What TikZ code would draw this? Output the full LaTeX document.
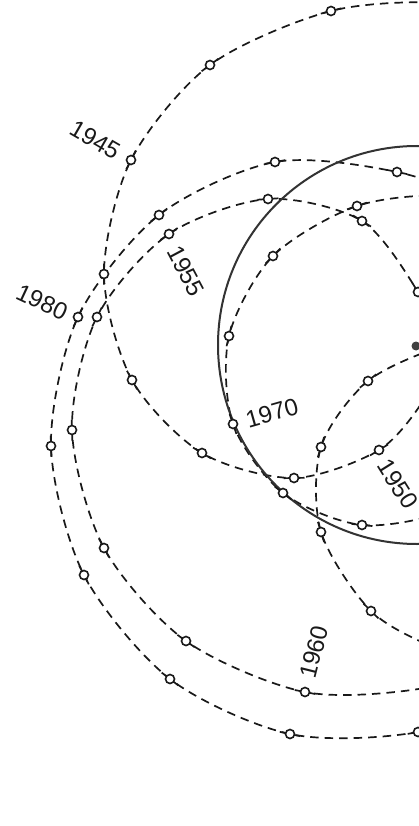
\documentclass[tikz,border=0pt]{standalone}
\usepackage{fontspec}
\setmainfont{Liberation Sans}
\usetikzlibrary{calc}
\tikzset{
  orbit/.style={dash pattern=on 8.5pt off 6pt, line width=1.7pt, draw=black!90},
  mk/.style={circle, draw=black!90, fill=white, line width=1.6pt, inner sep=0pt, minimum size=9pt},
  stub/.style={line width=1.7pt, draw=black!90},
  yr/.style={font=\fontsize{24}{24}\selectfont, inner sep=0pt, text=black!90},
  sun/.style={line width=2pt, draw=black!80},
  bary/.style={circle, fill=black!75, inner sep=0pt, minimum size=9pt},
}
\newcommand\mymark[3]{%
  \coordinate (tt) at ($(#2)+(#3)-(#1)$);
  \draw[stub] ($(#2)!10.5pt!(tt)$) -- ($(#2)!-10.5pt!(tt)$);
  \node[mk] (m-#2) at (#2) {};
}
\begin{document}
\begin{tikzpicture}[x=1pt,y=-1pt]
\useasboundingbox (0,0) rectangle (419,826);
\fill[white] (0,0) rectangle (419,826);
\clip (0,0) rectangle (419,826);
% curve A (1943-1950)
\coordinate (a0) at (560,25);
\coordinate (a1) at (450,3);
\coordinate (a2) at (331,11);
\coordinate (a3) at (210,65);
\coordinate (a4) at (131,160);
\coordinate (a5) at (104,274);
\coordinate (a6) at (132,380);
\coordinate (a7) at (202,453);
\coordinate (a8) at (294,478);
\coordinate (a9) at (379,450);
\coordinate (a10) at (425,398);
\coordinate (a11) at (450,340);
% curve B (1950-1960)
\coordinate (b0) at (460,420);
\coordinate (b1) at (440,345);
\coordinate (b2) at (418,292);
\coordinate (b3) at (362,221);
\coordinate (b4) at (268,199);
\coordinate (b5) at (169,234);
\coordinate (b6) at (97,317);
\coordinate (b7) at (72,430);
\coordinate (b8) at (104,548);
\coordinate (b9) at (186,641);
\coordinate (b10) at (305,692);
\coordinate (b11) at (425,688);
\coordinate (b12) at (530,655);
% curve C (1980)
\coordinate (c0) at (600,260);
\coordinate (c1) at (505,210);
\coordinate (c2) at (397,172);
\coordinate (c3) at (275,162);
\coordinate (c4) at (159,215);
\coordinate (c5) at (78,317);
\coordinate (c6) at (51,446);
\coordinate (c7) at (84,575);
\coordinate (c8) at (170,679);
\coordinate (c9) at (290,734);
\coordinate (c10) at (418,732);
\coordinate (c11) at (530,690);
% curve D (1970)
\coordinate (d0) at (540,220);
\coordinate (d1) at (450,196);
\coordinate (d2) at (357,206);
\coordinate (d3) at (273,256);
\coordinate (d4) at (229,336);
\coordinate (d5) at (233,424);
\coordinate (d6) at (283,493);
\coordinate (d7) at (362,525);
\coordinate (d8) at (450,510);
\coordinate (d9) at (530,460);
% curve E
\coordinate (e0) at (520,330);
\coordinate (e1) at (445,345);
\coordinate (e2) at (368,381);
\coordinate (e3) at (321,447);
\coordinate (e4) at (321,532);
\coordinate (e5) at (371,611);
\coordinate (e6) at (440,650);
\coordinate (e7) at (520,675);

\draw[orbit] plot[smooth] coordinates {(a0) (a1) (a2) (a3) (a4) (a5) (a6) (a7) (a8) (a9) (a10) (a11)};
\draw[orbit] plot[smooth] coordinates {(b0) (b1) (b2) (b3) (b4) (b5) (b6) (b7) (b8) (b9) (b10) (b11) (b12)};
\draw[orbit] plot[smooth] coordinates {(c0) (c1) (c2) (c3) (c4) (c5) (c6) (c7) (c8) (c9) (c10) (c11)};
\draw[orbit] plot[smooth] coordinates {(d0) (d1) (d2) (d3) (d4) (d5) (d6) (d7) (d8) (d9)};
\draw[orbit] plot[smooth] coordinates {(e0) (e1) (e2) (e3) (e4) (e5) (e6) (e7)};

% the sun's disc
\coordinate (sunc) at (417,345);
\draw[sun] (sunc) circle[radius=199];

\foreach \p/\c/\n in {a1/a2/a3,a2/a3/a4,a3/a4/a5,a4/a5/a6,a5/a6/a7,a6/a7/a8,a7/a8/a9,a8/a9/a10,
  b1/b2/b3,b2/b3/b4,b3/b4/b5,b4/b5/b6,b5/b6/b7,b6/b7/b8,b7/b8/b9,b8/b9/b10,b9/b10/b11,
  c1/c2/c3,c2/c3/c4,c3/c4/c5,c4/c5/c6,c5/c6/c7,c6/c7/c8,c7/c8/c9,c8/c9/c10,c9/c10/c11,
  d1/d2/d3,d2/d3/d4,d3/d4/d5,d4/d5/d6,d5/d6/d7,d6/d7/d8,
  e1/e2/e3,e2/e3/e4,e3/e4/e5,e4/e5/e6}{\mymark{\p}{\c}{\n}}

\node[bary] (cm) at (416,346) {};

\node[yr, rotate=-30] (l1945) at (95,140) {1945};
\node[yr, rotate=-62] (l1955) at (186,271) {1955};
\node[yr, rotate=-58] (l1950) at (398,484) {1950};
\node[yr, rotate=16] (l1970) at (272,413) {1970};
\node[yr, rotate=-25] (l1980) at (42,302) {1980};
\node[yr, rotate=76] (l1960) at (314,652) {1960};
\end{tikzpicture}
\end{document}
